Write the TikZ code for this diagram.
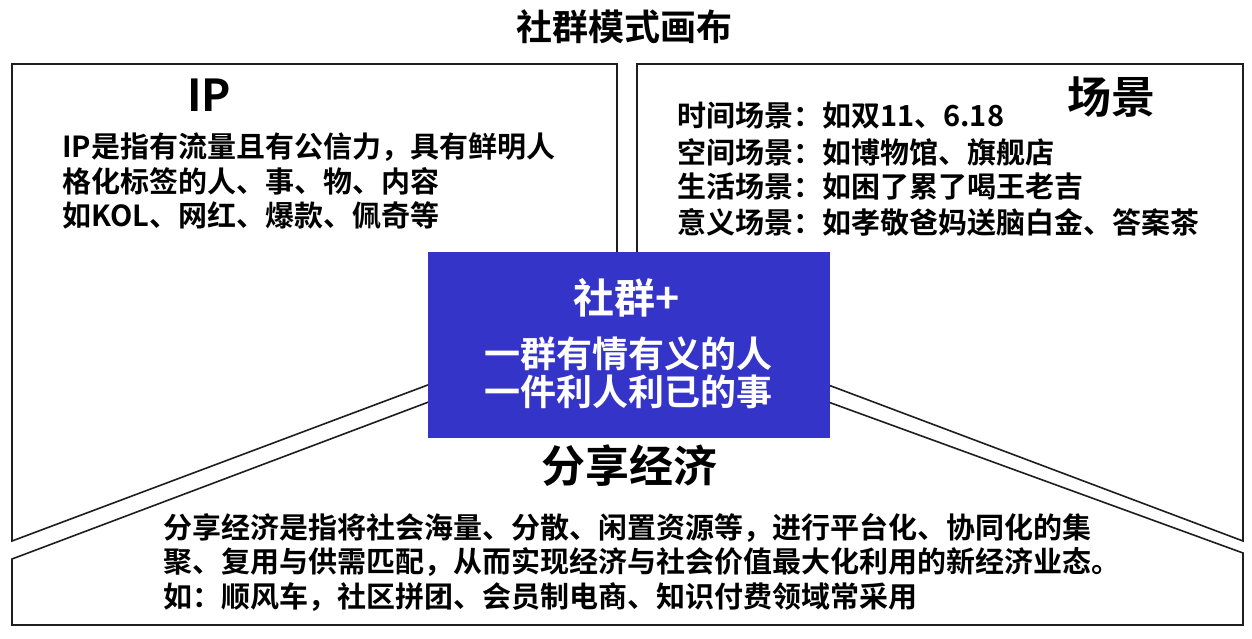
\documentclass[tikz,border=0pt]{standalone}
\usepackage{fontspec}
\newfontfamily\cjk{Noto Sans CJK SC}[BoldFont={* Bold}]
\definecolor{boxblue}{RGB}{52,52,200}
\definecolor{edge}{RGB}{30,30,30}
\begin{document}
\begin{tikzpicture}[x=1pt,y=-1pt,
  panel/.style={draw=edge,line width=1.6pt,line join=miter,fill=white},
  title/.style={font=\cjk\bfseries\fontsize{36}{40}\selectfont,inner sep=0pt},
  head/.style={font=\cjk\bfseries\fontsize{44}{48}\selectfont,inner sep=0pt},
  body/.style={font=\cjk\bfseries\fontsize{29}{35}\selectfont,inner sep=0pt,anchor=west},
  centre/.style={font=\cjk\bfseries\fontsize{36}{40}\selectfont,text=white,inner sep=0pt}]
\useasboundingbox (0,0) rectangle (1252,638);
\fill[white] (0,0) rectangle (1252,638);
% panels
\draw[panel] (12,64) -- (617,64) -- (617,314) -- (12,541) -- cycle;
\draw[panel] (637,64) -- (1243,64) -- (1243,541) -- (637,313) -- cycle;
\draw[panel] (12,625) -- (12,559) -- (625,328) -- (1243,553) -- (1243,625) -- cycle;
% centre box
\node[fill=boxblue,minimum width=402pt,minimum height=186pt,inner sep=0pt] (core) at (629,345) {};
\node[centre,font=\cjk\bfseries\fontsize{41}{44}\selectfont] (c1) at (627,298) {社群+};
\node[centre] (c2) at (628,354) {一群有情有义的人};
\node[centre] (c3) at (628,392) {一件利人利已的事};
% title
\node[title] (t) at (624,27) {社群模式画布};
% IP
\node[head] (ip) at (209,95) {IP};
\node[body] (ip1) at (62,147) {IP是指有流量且有公信力，具有鲜明人};
\node[body] (ip2) at (62,181) {格化标签的人、事、物、内容};
\node[body] (ip3) at (62,215) {如KOL、网红、爆款、佩奇等};
% scene
\node[head] (sc) at (1111,97) {场景};
\node[body] (s1) at (677,116) {时间场景：如双11、6.18};
\node[body] (s2) at (677,152) {空间场景：如博物馆、旗舰店};
\node[body] (s3) at (677,187) {生活场景：如困了累了喝王老吉};
\node[body] (s4) at (677,222) {意义场景：如孝敬爸妈送脑白金、答案茶};
% sharing economy
\node[head] (se) at (629,466) {分享经济};
\node[body] (b1) at (163,528) {分享经济是指将社会海量、分散、闲置资源等，进行平台化、协同化的集};
\node[body] (b2) at (163,562) {聚、复用与供需匹配，从而实现经济与社会价值最大化利用的新经济业态。};
\node[body] (b3) at (163,597) {如：顺风车，社区拼团、会员制电商、知识付费领域常采用};
\end{tikzpicture}
\end{document}
